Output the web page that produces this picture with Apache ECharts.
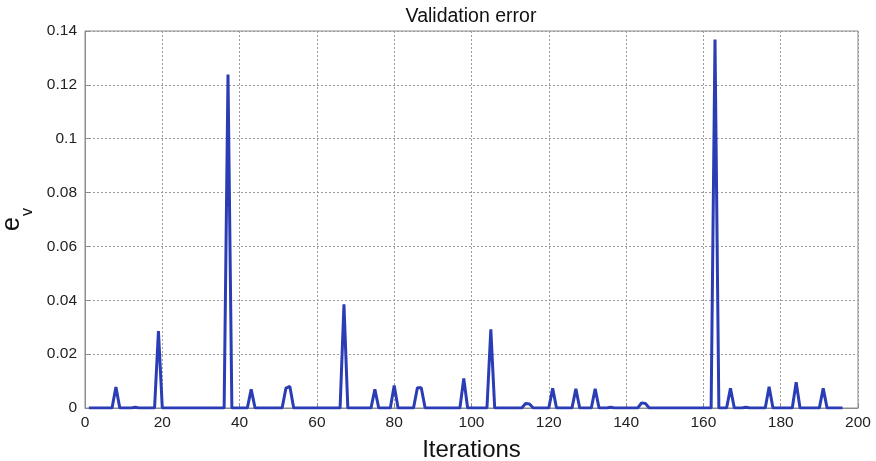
<!DOCTYPE html>
<html>
<head>
<meta charset="utf-8">
<script src="https://cdn.jsdelivr.net/npm/echarts@6/dist/echarts.min.js"></script>
<style>
  html, body { margin: 0; padding: 0; background: #fff; }
  #chart { width: 876px; height: 461px; }
</style>
</head>
<body>
<div id="chart"></div>
<script>
// Validation error per iteration (iterations 1..196)
const errors = [
  0, 0, 0, 0, 0, 0, 0, 0.0078, 0, 0,
  0, 0, 0.0003, 0, 0, 0, 0, 0, 0.0286, 0,
  0, 0, 0, 0, 0, 0, 0, 0, 0, 0,
  0, 0, 0, 0, 0, 0, 0.1238, 0, 0, 0,
  0, 0, 0.0069, 0, 0, 0, 0, 0, 0, 0,
  0, 0.0074, 0.0080, 0, 0, 0, 0, 0, 0, 0,
  0, 0, 0, 0, 0, 0, 0.0385, 0, 0, 0,
  0, 0, 0, 0, 0.0069, 0, 0, 0, 0, 0.0084,
  0, 0, 0, 0, 0, 0.0075, 0.0075, 0, 0, 0,
  0, 0, 0, 0, 0, 0, 0, 0.0110, 0, 0,
  0, 0, 0, 0, 0.0292, 0, 0, 0, 0, 0,
  0, 0, 0, 0.0017, 0.0015, 0, 0, 0, 0, 0,
  0.0073, 0, 0, 0, 0, 0, 0.0071, 0, 0, 0,
  0, 0.0071, 0, 0, 0, 0.0003, 0, 0, 0, 0,
  0, 0, 0, 0.0019, 0.0017, 0, 0, 0, 0, 0,
  0, 0, 0, 0, 0, 0, 0, 0, 0, 0,
  0, 0, 0.1368, 0, 0, 0, 0.0073, 0, 0, 0,
  0.0003, 0, 0, 0, 0, 0, 0.0079, 0, 0, 0,
  0, 0, 0, 0.0096, 0, 0, 0, 0, 0, 0,
  0.0073, 0, 0, 0, 0, 0
];
const iterations = errors.map((_, i) => i + 1);
const xTicks = [0, 20, 40, 60, 80, 100, 120, 140, 160, 180, 200];
const yTicks = [0, 0.02, 0.04, 0.06, 0.08, 0.1, 0.12, 0.14];

const seriesData = iterations.map((it, i) => [it, errors[i]]);
const FONT = '"Liberation Sans", Arial, Helvetica, sans-serif';

const chart = echarts.init(document.getElementById('chart'), null, { renderer: 'canvas' });
chart.setOption({
  animation: false,
  backgroundColor: '#ffffff',
  title: {
    text: 'Validation error',
    left: 466, top: 2, textAlign: 'center',
    textStyle: { fontFamily: FONT, fontSize: 19.5, fontWeight: 'normal', color: '#111' }
  },
  grid: {
    left: 85, right: 18, top: 31, bottom: 53,
    outerBoundsMode: 'none', containLabel: false,
    show: true, borderColor: '#8c8c8c', borderWidth: 1, backgroundColor: 'transparent'
  },
  xAxis: {
    type: 'value',
    min: xTicks[0], max: xTicks[xTicks.length - 1], interval: 20,
    name: 'Iterations', nameLocation: 'middle', nameGap: 30,
    nameTextStyle: { fontFamily: FONT, fontSize: 24, color: '#111' },
    axisLine: { show: true, lineStyle: { color: '#8c8c8c', width: 1 } },
    axisTick: { show: true, inside: true, length: 5, lineStyle: { color: '#8c8c8c' } },
    axisLabel: { fontFamily: FONT, fontSize: 15.5, color: '#222', margin: 7 },
    splitLine: { show: true, lineStyle: { color: '#9a9a9a', type: [2, 2], width: 1 } }
  },
  yAxis: {
    type: 'value',
    min: yTicks[0], max: yTicks[yTicks.length - 1], interval: 0.02,
    name: '{e|e}{v|v}', nameLocation: 'middle', nameGap: 47, nameRotate: 90,
    nameTextStyle: {
      fontFamily: FONT, color: '#111',
      rich: {
        e: { fontFamily: FONT, fontSize: 25, color: '#111', verticalAlign: 'top', lineHeight: 25 },
        v: { fontFamily: FONT, fontSize: 16, color: '#111', verticalAlign: 'bottom', lineHeight: 36, padding: [0, 0, 0, 1] }
      }
    },
    axisLine: { show: true, lineStyle: { color: '#8c8c8c', width: 1 } },
    axisTick: { show: true, inside: true, length: 5, lineStyle: { color: '#8c8c8c' } },
    axisLabel: { fontFamily: FONT, fontSize: 15.5, color: '#222', margin: 8 },
    splitLine: { show: true, lineStyle: { color: '#9a9a9a', type: [2, 2], width: 1 } }
  },
  series: [{
    type: 'line',
    data: seriesData,
    showSymbol: false,
    smooth: false,
    lineStyle: { color: '#2a3db5', width: 3 },
    itemStyle: { color: '#2a3db5' },
    z: 1
  }]
});
</script>
</body>
</html>
